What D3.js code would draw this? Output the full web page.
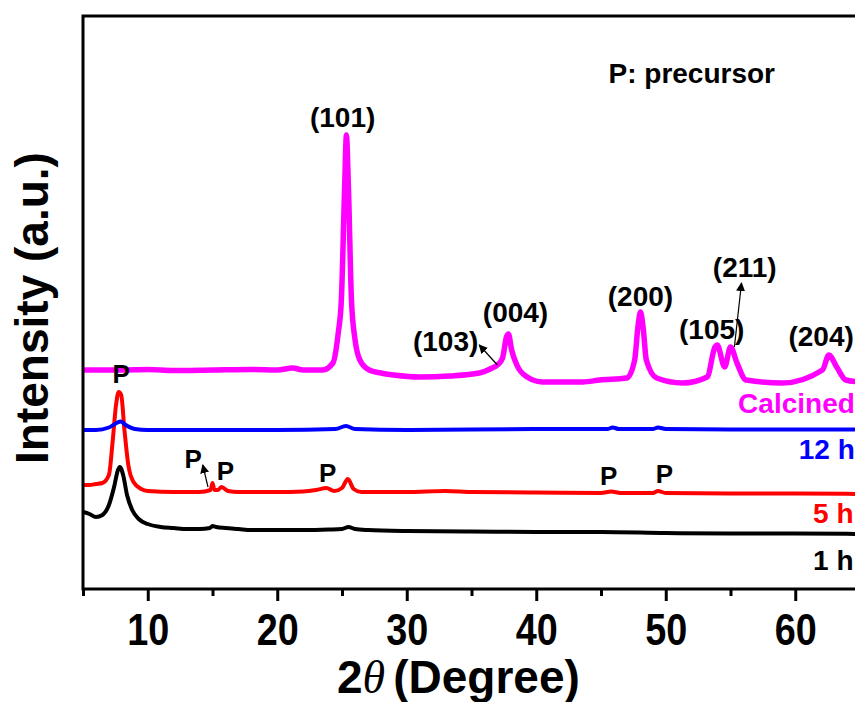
<!DOCTYPE html>
<html>
<head>
<meta charset="utf-8">
<script src="https://cdn.jsdelivr.net/npm/d3@7"></script>
<style>
  body { margin: 0; background: #fff; }
  text { font-family: "Liberation Sans", Arial, sans-serif; font-weight: bold; }
</style>
</head>
<body>
<div id="chart"></div>
<script>
// XRD patterns: 2theta (degree) vs intensity (a.u., stacked)
const pattern1h = [[5.0,77],[5.5,75],[6.0,72],[6.5,74],[7.0,84],[7.4,102],[7.7,119],[7.85,122],[8.1,114],[8.4,94],[8.8,79],[9.3,70],[10,65],[11,62],[12,61],[13,60],[14,60],[14.8,61],[15.0,63],[15.3,62],[16,61],[17,60],[18,59],[20,59],[22,59],[24,59.5],[25,60],[25.5,62],[26,60],[27,59],[30,58],[35,57.5],[40,57],[45,57],[50,56],[55,55.5],[60,55.5],[65,55]];
const pattern5h = [[5.0,104],[5.5,104],[6.0,105],[6.5,106],[7.0,114],[7.3,149],[7.55,184],[7.75,197],[7.95,194],[8.2,159],[8.5,124],[8.9,107],[9.5,100],[10,98],[12,97],[14,97],[14.85,99],[15.0,106],[15.15,99],[15.4,99],[15.7,102],[16.2,98],[17,97],[20,97],[22,97.5],[23,99],[23.8,101],[24.4,98],[25.0,101],[25.45,110],[25.9,100],[26.5,97],[28,97],[30,97],[33,98],[35,97],[40,96.5],[45,96],[45.8,97.5],[46.5,96],[49,96],[49.4,98],[50,96],[55,95.5],[60,95.5],[65,95]];
const pattern12h = [[5,159],[6,159],[7,161.5],[7.6,166],[7.9,167.5],[8.3,164],[9,160],[10,159],[15,159],[20,159],[24.5,160],[25.3,163],[26,160],[30,159],[40,160],[45.5,160],[45.9,161.5],[46.4,160],[49,160],[49.4,161.5],[50,160],[55,159.5],[60,159.5],[65,159.5]];
const patternCalcined = [[5,219],[8,219],[10,219.5],[12,218.5],[15,219],[18,219.5],[20,219],[21.2,221],[22,219],[23.5,219],[24.3,226],[24.7,255],[24.95,289],[25.2,400],[25.34,454],[25.5,400],[25.73,289],[26.0,250],[26.38,229],[27.1,219],[28,216],[29,214],[31,212],[33.3,213],[35.6,216],[36.6,221],[37.0,224],[37.4,231],[37.7,252],[37.85,255],[38.1,239],[38.5,224],[39.3,212],[40.5,207],[43.6,207],[44.9,209],[47.0,211],[47.6,229],[47.85,262],[48.05,277],[48.25,262],[48.5,229],[49.3,211],[51.3,206],[53.2,212],[53.8,242],[53.97,244],[54.55,222],[55.0,242],[55.5,226],[56.2,209],[59.0,206],[62.1,219],[62.6,234],[63.2,222],[63.9,209],[65,207]];

const seriesNames = ["1 h", "5 h", "12 h", "Calcined"];
const seriesColors = ["#000000", "#ff0000", "#0000ff", "#ff00ff"];
const seriesData = [pattern1h, pattern5h, pattern12h, patternCalcined];
// label anchor (2theta at right end, intensity level) for each series name
const seriesLabelTheta = [64.5, 64.5, 64.6, 64.6];
const seriesLabelLevel = [19, 66, 130, 176];

const majorTicks = [10, 20, 30, 40, 50, 60];
const minorTicks = [5, 15, 25, 35, 45, 55, 65];

// hkl reflections of the calcined sample
const hklLabels = ["(101)", "(103)", "(004)", "(200)", "(105)", "(211)", "(204)"];
const hklTheta = [25.05, 33.0, 38.4, 48.05, 53.55, 56.1, 62.0];
const hklLevel = [462, 238, 267, 283, 250, 312, 243];

// precursor markers
const pTheta = [7.95, 13.5, 16.0, 23.9, 45.6, 49.9];
const pLevel = [206, 121, 109, 107, 104, 106];

// arrows [theta1, level1, theta2, level2], head at the second point
const arrows = [[37.0, 224, 35.6, 244], [55.3, 242, 55.85, 306], [14.65, 102, 14.25, 124]];

const width = 855;
const height = 702;
const mLeft = 83, mRight = 860, mTop = 16, mBottom = 589;

const svg = d3.select("#chart")
    .append("svg")
    .attr("width", width)
    .attr("height", height);

const defs = svg.append("defs");
defs.append("marker")
    .attr("id", "head")
    .attr("viewBox", "0 0 10 10")
    .attr("refX", 9).attr("refY", 5)
    .attr("markerWidth", 9).attr("markerHeight", 9)
    .attr("markerUnits", "userSpaceOnUse")
    .attr("orient", "auto")
    .append("path")
    .attr("d", "M0,0 L10,5 L0,10 z")
    .attr("fill", "#000");

const x = d3.scaleLinear().domain([5, 65]).range([mLeft, mRight]);
const y = d3.scaleLinear().domain([0, 573]).range([mBottom, mTop]);

defs.append("clipPath").attr("id", "plot")
    .append("rect")
    .attr("x", mLeft).attr("y", mTop)
    .attr("width", mRight - mLeft).attr("height", mBottom - mTop);

const line = d3.line()
    .x(d => x(d[0]))
    .y(d => y(d[1]))
    .curve(d3.curveMonotoneX);

svg.append("g")
    .attr("clip-path", "url(#plot)")
    .selectAll("path")
    .data(seriesData)
    .enter()
    .append("path")
    .attr("d", line)
    .attr("fill", "none")
    .attr("stroke", (d, i) => seriesColors[i])
    .attr("stroke-width", (d, i) => i === 3 ? 5.5 : 4)
    .attr("stroke-linejoin", "round");

// frame
svg.append("rect")
    .attr("x", mLeft).attr("y", mTop)
    .attr("width", mRight - mLeft).attr("height", mBottom - mTop)
    .attr("fill", "none")
    .attr("stroke", "#000")
    .attr("stroke-width", 3);

// x axis
const xAxis = svg.append("g")
    .attr("transform", `translate(0,${mBottom})`)
    .call(d3.axisBottom(x).tickValues(majorTicks).tickSize(12).tickPadding(12).tickFormat(d3.format("d")));
xAxis.select(".domain").remove();
xAxis.selectAll("line").attr("stroke-width", 3);
xAxis.selectAll("text")
    .attr("fill", "#000")
    .attr("transform", "scale(0.84,1)")
    .style("font-size", "45px")
    .style("font-weight", "bold");

const xMinor = svg.append("g")
    .attr("transform", `translate(0,${mBottom})`)
    .call(d3.axisBottom(x).tickValues(minorTicks).tickSize(7).tickFormat(""));
xMinor.select(".domain").remove();
xMinor.selectAll("line").attr("stroke-width", 3);

// axis titles
const xTitle = svg.append("text")
    .attr("x", 337).attr("y", 693)
    .style("font-size", "46px");
xTitle.append("tspan").text("2");
xTitle.append("tspan")
    .style("font-family", "'Liberation Serif', serif")
    .style("font-style", "italic")
    .style("font-weight", "normal")
    .text("\u03b8");
xTitle.append("tspan").attr("dx", 8).text("(Degree)");

svg.append("text")
    .attr("transform", "translate(48,308) rotate(-90)")
    .attr("text-anchor", "middle")
    .style("font-size", "46px")
    .text("Intensity (a.u.)");

// series labels
svg.selectAll(".series-label")
    .data(seriesNames)
    .enter()
    .append("text")
    .attr("class", "series-label")
    .attr("x", (d, i) => x(seriesLabelTheta[i]))
    .attr("y", (d, i) => y(seriesLabelLevel[i]))
    .attr("text-anchor", "end")
    .attr("fill", (d, i) => seriesColors[i])
    .style("font-size", "28px")
    .text(d => d);

// hkl labels
svg.selectAll(".hkl")
    .data(hklLabels)
    .enter()
    .append("text")
    .attr("class", "hkl")
    .attr("x", (d, i) => x(hklTheta[i]))
    .attr("y", (d, i) => y(hklLevel[i]))
    .attr("text-anchor", "middle")
    .style("font-size", "28px")
    .text(d => d);

// P markers
svg.selectAll(".pmark")
    .data(pTheta)
    .enter()
    .append("text")
    .attr("class", "pmark")
    .attr("x", d => x(d))
    .attr("y", (d, i) => y(pLevel[i]))
    .attr("text-anchor", "middle")
    .style("font-size", "26px")
    .text("P");

svg.selectAll(".arrow")
    .data(arrows)
    .enter()
    .append("line")
    .attr("x1", d => x(d[0])).attr("y1", d => y(d[1]))
    .attr("x2", d => x(d[2])).attr("y2", d => y(d[3]))
    .attr("stroke", "#000")
    .attr("stroke-width", 1.2)
    .attr("marker-end", "url(#head)");

svg.append("text")
    .attr("x", 775).attr("y", 83)
    .attr("text-anchor", "end")
    .style("font-size", "28px")
    .text("P: precursor");
</script>
</body>
</html>
